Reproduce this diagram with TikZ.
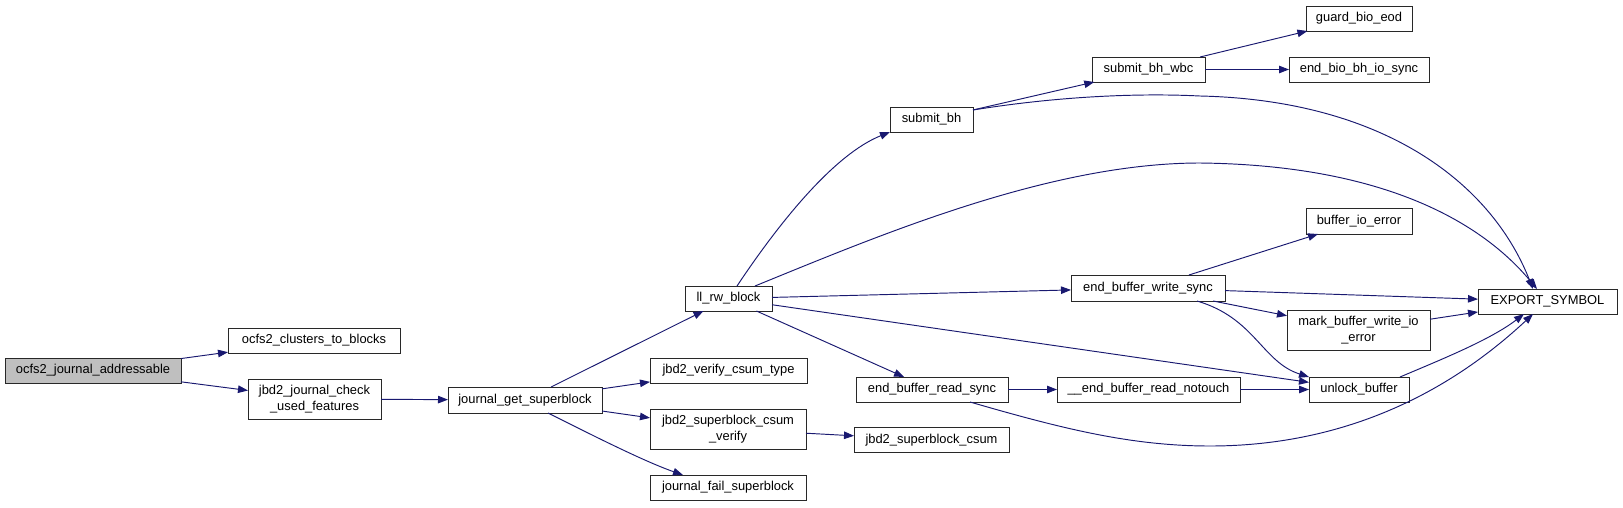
\documentclass[tikz,border=0pt]{standalone}
\usepackage{fontspec}
\setmainfont{Liberation Sans}
\usetikzlibrary{arrows.meta}
\definecolor{callblue} {RGB}{25,25,112}
\definecolor{rootgray} {RGB}{191,191,191}
\definecolor{boxline}  {RGB}{40,40,40}

\begin{document}
\begin{tikzpicture}[
  x=1pt,y=-1pt,
  font=\fontsize{12.9}{16}\selectfont,
  fnode/.style 2 args={draw=boxline,line width=1pt,fill=white,inner sep=0pt,
                       outer sep=0pt,minimum width=#1,minimum height=#2,align=center},
  rootnode/.style 2 args={fnode={#1}{#2},fill=rootgray},
  call/.style={draw=callblue,line width=0.95pt,-{Triangle[length=10pt,width=7.5pt]}},
]
\useasboundingbox (0,0) rectangle (1623,507);

%% ── Root and first level ─────────────────────────────────────────────────────
\node[rootnode={176}{25}] (addr) at (93,370.5) {ocfs2\_journal\_addressable};
\node[fnode={172}{25}] (c2b) at (314,340.5) {ocfs2\_clusters\_to\_blocks};
\node[fnode={133}{40}] (chk) at (314.5,399) {jbd2\_journal\_check\\\_used\_features};

%% ── journal_get_superblock and its callees ───────────────────────────────────
\node[fnode={154}{26}] (jgs) at (525,400) {journal\_get\_superblock};
\node[fnode={87}{25}] (llrw) at (728.5,298.5) {ll\_rw\_block};
\node[fnode={157}{25}] (vct) at (728.5,370.5) {jbd2\_verify\_csum\_type};
\node[fnode={156}{40}] (scv) at (728,429) {jbd2\_superblock\_csum\\\_verify};
\node[fnode={156}{25}] (jfs) at (728,487.5) {journal\_fail\_superblock};
\node[fnode={155}{25}] (sbc) at (931.5,440) {jbd2\_superblock\_csum};

%% ── ll_rw_block callees ──────────────────────────────────────────────────────
\node[fnode={83}{25}] (sbh) at (931.5,119.5) {submit\_bh};
\node[fnode={113}{25}] (sbw) at (1148.5,69.5) {submit\_bh\_wbc};
\node[fnode={106}{25}] (gbe) at (1359,18.5) {guard\_bio\_eod};
\node[fnode={140}{25}] (ebb) at (1359,69.5) {end\_bio\_bh\_io\_sync};
\node[fnode={154}{26}] (ebws) at (1148,288) {end\_buffer\_write\_sync};
\node[fnode={152}{25}] (ebrs) at (932,389.5) {end\_buffer\_read\_sync};
\node[fnode={183}{25}] (ebrn) at (1148.5,389.5) {\_\_end\_buffer\_read\_notouch};
\node[fnode={106}{26}] (bie) at (1359,221) {buffer\_io\_error};
\node[fnode={143}{40}] (mbw) at (1358.5,330) {mark\_buffer\_write\_io\\\_error};
\node[fnode={100}{25}] (ulb) at (1359,389.5) {unlock\_buffer};
\node[fnode={139}{25}] (exp) at (1547.5,301.5) {EXPORT\_SYMBOL};

%% ── Straight calls ───────────────────────────────────────────────────────────
\foreach \a/\b in {addr/c2b,addr/chk,chk/jgs,jgs/llrw,jgs/vct,jgs/scv,scv/sbc,
                   llrw/ebws,llrw/ulb,llrw/ebrs,sbh/sbw,sbw/gbe,sbw/ebb,
                   ebws/bie,ebws/exp,ebws/mbw,mbw/exp,ebrs/ebrn,ebrn/ulb}
  \draw[call] (\a) -- (\b);

%% ── Curved calls ─────────────────────────────────────────────────────────────
\draw[call] ([xshift=23]jgs.south) .. controls (588,433) and (643,461) .. ([xshift=-45]jfs.north);
\draw[call] ([xshift=8.5]llrw.north) .. controls (781,220) and (835,154) .. (sbh.south west);
\draw[call] ([xshift=26.5]llrw.north) .. controls (880,235) and (1050,163) .. (1200,163)
  .. controls (1380,165) and (1480,220) .. ([xshift=-10.5]exp.north);
\draw[call] ([yshift=9.5]sbh.east) .. controls (1060,96) and (1140,93) .. (1200,96)
  .. controls (1380,100) and (1490,180) .. ([xshift=-14.5]exp.north);
\draw[call] ([xshift=38]ebrs.south) .. controls (1060,428) and (1130,446) .. (1210,446)
  .. controls (1320,446) and (1430,410) .. ([xshift=-14.5]exp.south);
\draw[call] ([xshift=41]ulb.north) .. controls (1440,360) and (1490,340) .. ([xshift=-23.5]exp.south);
\draw[call] ([xshift=49]ebws.south) .. controls (1255,318) and (1262,362) .. (ulb.north west);

\end{tikzpicture}
\end{document}
